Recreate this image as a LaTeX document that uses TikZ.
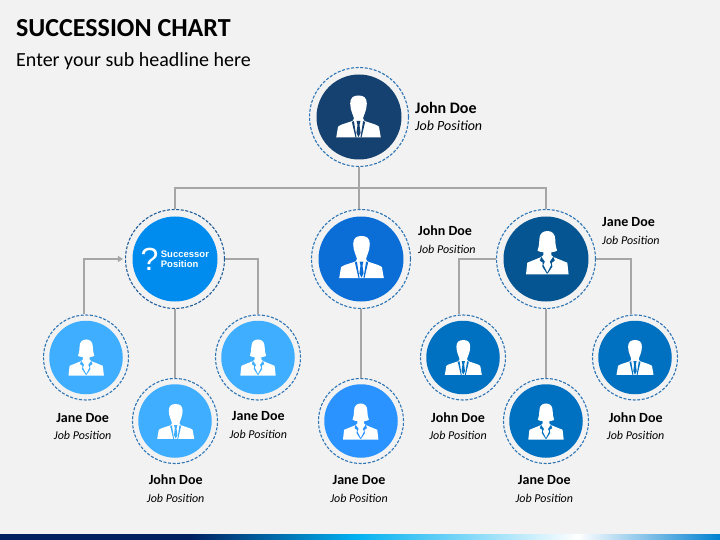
\documentclass[tikz,border=0pt]{standalone}
\usepackage{fontspec}
\setmainfont{Carlito}
\newfontfamily\arialfont{Liberation Sans}
\usetikzlibrary{arrows.meta}
\definecolor{bgc}{HTML}{F2F2F2}
\definecolor{linec}{HTML}{A6A6A6}
\definecolor{ringc}{HTML}{2E75B6}
\definecolor{ringd}{HTML}{1F5C99}
\definecolor{cTop}{HTML}{14416F}
\definecolor{cSucc}{HTML}{008CEE}
\definecolor{cMid}{HTML}{0A6ED6}
\definecolor{cRight}{HTML}{045592}
\definecolor{cLight}{HTML}{3FAEFF}
\definecolor{cMidB}{HTML}{2A93FF}
\definecolor{cGroup}{HTML}{0070C0}
\definecolor{barA}{HTML}{002060}
\definecolor{barB}{HTML}{00B0F0}
\definecolor{barC}{HTML}{0080D0}
\tikzset{
  bigring/.style={circle,draw=ringc,dash pattern=on 3pt off 1.6pt,line width=1.1pt,minimum size=99pt,inner sep=0pt},
  smallring/.style={circle,draw=ringc,dash pattern=on 3pt off 1.6pt,line width=1.1pt,minimum size=85pt,inner sep=0pt},
  bigdisc/.style={circle,fill=#1,minimum size=85pt,inner sep=0pt},
  smalldisc/.style={circle,fill=#1,minimum size=73.5pt,inner sep=0pt},
  conn/.style={draw=linec,line width=2pt},
  nm/.style={font=\fontsize{14}{16}\selectfont\bfseries,inner sep=0pt,anchor=base},
  jp/.style={font=\fontsize{12}{14}\selectfont\itshape,inner sep=0pt,anchor=base},
  nmbig/.style={font=\fontsize{16}{18}\selectfont\bfseries,inner sep=0pt,anchor=base west},
  jpbig/.style={font=\fontsize{14}{16}\selectfont\itshape,inner sep=0pt,anchor=base west},
  pics/man/.style={code={
    \fill[white] (-22.3,21) -- (-20.5,10.5) .. controls (-20,9) and (-17,8) .. (-6,4.5) -- (-4.5,2) .. controls (-5,-1) and (-8.3,-6) .. (-8.3,-13)
      .. controls (-8.3,-19) and (-5,-21) .. (0,-21) .. controls (5,-21) and (8.3,-19) .. (8.3,-13)
      .. controls (8.3,-6) and (5,-1) .. (4.5,2) -- (6,4.5) .. controls (17,8) and (20,9) .. (20.5,10.5) -- (22.3,21) -- cycle;
    \fill[#1] (-6.6,5.5) -- (-4.6,4.5) -- (-2,21) -- (-3,21) -- cycle;
    \fill[#1] (6.6,5.5) -- (4.6,4.5) -- (2,21) -- (3,21) -- cycle;
    \fill[#1] (-1.9,4.5) -- (1.9,4.5) -- (1,8.5) -- (2.1,16.5) -- (0,20.5) -- (-2.1,16.5) -- (-1,8.5) -- cycle;
  }},
  pics/woman/.style={code={
    \fill[white] (-21.3,21.7) -- (-20,10) -- (-6.5,4.5) -- (-4,2.5) -- (-4,-0.5) .. controls (-6,-0.8) and (-9,-1) .. (-9.8,-2)
      .. controls (-8.5,-6) and (-8,-9) .. (-8,-13) .. controls (-8,-19) and (-4.5,-21.7) .. (0,-21.7)
      .. controls (4.5,-21.7) and (8,-19) .. (8,-13) .. controls (8,-9) and (8.5,-6) .. (9.8,-2)
      .. controls (9,-1) and (6,-0.8) .. (4,-0.5) -- (4,2.5) -- (6.5,4.5) -- (20,10) -- (21.3,21.7) -- cycle;
    \fill[#1] (-6,4) -- (-2.5,9) -- (-4,12) -- (0,20) -- (4,12) -- (2.5,9) -- (6,4) -- (7.5,8) -- (4.5,10) -- (5,14) -- (0.3,21) -- (-0.3,21) -- (-5,14) -- (-4.5,10) -- (-7.5,8) -- cycle;
  }},
}
\begin{document}
\begin{tikzpicture}[x=1pt,y=-1pt]
\useasboundingbox (0,0) rectangle (720,540);
\fill[bgc] (0,0) rectangle (720,540);
% bottom band
\fill[barA] (0,534) rectangle (190,540);
\shade[left color=barA,right color=barB] (189.5,534) rectangle (355,540);
\shade[left color=barB,right color=white] (354.5,534) rectangle (578,540);
\shade[left color=white,right color=barC] (577.5,534) rectangle (720,540);
% title
\node[inner sep=0pt,anchor=base west,font=\fontsize{26}{30}\selectfont\bfseries] (title) at (16,37) {SUCCESSION CHART};
\node[inner sep=0pt,anchor=base west,font=\fontsize{20}{24}\selectfont] (subtitle) at (16,66.5) {Enter your sub headline here};
% rings
\node[bigring] (top) at (359,117) {};
\node[bigring,draw=ringd] (succ) at (175,259) {};
\node[bigring] (mid) at (361,259) {};
\node[bigring] (right) at (546,259) {};
\node[smallring] (ll) at (86,357.5) {};
\node[smallring] (lb) at (175,421) {};
\node[smallring] (lr) at (258,357.5) {};
\node[smallring] (mb) at (361,421) {};
\node[smallring] (rl) at (463,357.5) {};
\node[smallring] (rb) at (546,421) {};
\node[smallring] (rr) at (635,357.5) {};
% discs
\node[bigdisc=cTop] (topd) at (top) {};
\node[bigdisc=cSucc] (succd) at (succ) {};
\node[bigdisc=cMid] (midd) at (mid) {};
\node[bigdisc=cRight] (rightd) at (right) {};
\node[smalldisc=cLight] (lld) at (ll) {};
\node[smalldisc=cLight] (lbd) at (lb) {};
\node[smalldisc=cLight] (lrd) at (lr) {};
\node[smalldisc=cMidB] (mbd) at (mb) {};
\node[smalldisc=cGroup] (rld) at (rl) {};
\node[smalldisc=cGroup] (rbd) at (rb) {};
\node[smalldisc=cGroup] (rrd) at (rr) {};
% connectors
\coordinate (bus) at (359,188);
\draw[conn] (top.south) -- (bus);
\draw[conn] (bus) -| (succ.north);
\draw[conn] (bus) -| (right.north);
\draw[conn] (bus) -- (bus |- mid.north);
\draw[conn,-{Triangle[length=5pt,width=6pt]},shorten >=2pt] ([xshift=-2pt]ll.north) |- (succ.west);
\draw[conn] (succ.east) -| (lr.north);
\draw[conn] (succ.south) -- (lb.north);
\draw[conn] (mid.south) -- (mb.north);
\draw[conn] (right.west) -| ([xshift=-4pt]rl.north);
\draw[conn] (right.east) -| ([xshift=-4pt]rr.north);
\draw[conn] (right.south) -- (rb.north);
% icons
\pic at (358.5,116.5) {man=cTop};
\pic at (361.5,257) {man=cMid};
\pic at (547.3,252.7) {woman=cRight};
\pic[scale=0.83] at (86.2,357.5) {woman=cLight};
\pic[scale=0.83] at (175.7,421.5) {man=cLight};
\pic[scale=0.83] at (258,357.5) {woman=cLight};
\pic[scale=0.83] at (360.7,421.5) {woman=cMidB};
\pic[scale=0.83] at (463.3,357.5) {man=cGroup};
\pic[scale=0.83] at (546,421.5) {woman=cGroup};
\pic[scale=0.83] at (635,357.5) {man=cGroup};
% successor text
\node[inner sep=0pt,anchor=base,text=white,font=\arialfont\fontsize{32}{32}\selectfont] (qm) at (149.5,270.5) {?};
\node[inner sep=0pt,anchor=base west,text=white,font=\arialfont\fontsize{9.5}{10}\selectfont\bfseries] (s1) at (160.7,257) {Successor};
\node[inner sep=0pt,anchor=base west,text=white,font=\arialfont\fontsize{9.5}{10}\selectfont\bfseries] (s2) at (160.7,267.7) {Position};
% labels
\node[nmbig] (t1) at (415,113.5) {John Doe};
\node[jpbig] (t2) at (415,130.2) {Job Position};
\node[nm,anchor=base west] (m1) at (418,235.5) {John Doe};
\node[jp,anchor=base west] (m2) at (418,253.5) {Job Position};
\node[nm,anchor=base west] (r1) at (602,226.5) {Jane Doe};
\node[jp,anchor=base west] (r2) at (602,244.5) {Job Position};
\node[nm] (ll1) at (82.7,422.5) {Jane Doe};
\node[jp] (ll2) at (82.7,439.5) {Job Position};
\node[nm] (lb1) at (175.7,484.5) {John Doe};
\node[jp] (lb2) at (175.7,502) {Job Position};
\node[nm] (lr1) at (258.3,420.5) {Jane Doe};
\node[jp] (lr2) at (258.3,438) {Job Position};
\node[nm] (mb1) at (359,484.5) {Jane Doe};
\node[jp] (mb2) at (359,502) {Job Position};
\node[nm] (rl1) at (458,422.5) {John Doe};
\node[jp] (rl2) at (458,439.5) {Job Position};
\node[nm] (rb1) at (544.3,484.5) {Jane Doe};
\node[jp] (rb2) at (544.3,502) {Job Position};
\node[nm] (rr1) at (635.7,422.5) {John Doe};
\node[jp] (rr2) at (635.7,439.5) {Job Position};
\end{tikzpicture}
\end{document}
